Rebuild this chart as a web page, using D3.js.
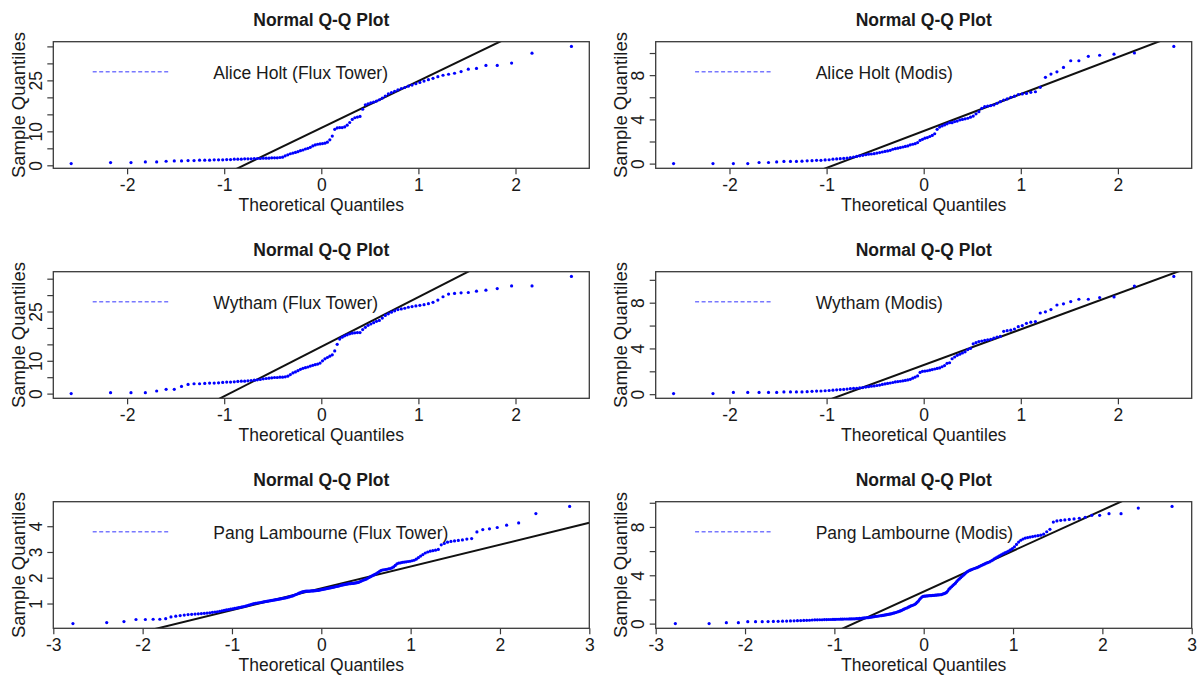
<!DOCTYPE html>
<html>
<head>
<meta charset="utf-8">
<script src="https://cdn.jsdelivr.net/npm/d3@7"></script>
<style>
  body { margin: 0; background: #fff; }
  svg { display: block; font-family: "Liberation Sans", Arial, sans-serif; }
</style>
</head>
<body>
<div id="chart"></div>
<script>
// Sorted sample values
const aliceFlux = [
  0.5, 0.8, 0.8, 1.0, 1.0, 1.2, 1.3, 1.3, 1.4, 1.4,
  1.5, 1.5, 1.5, 1.6, 1.6, 1.6, 1.7, 1.7, 1.8, 1.8,
  1.8, 1.9, 1.9, 1.9, 2.0, 2.0, 2.0, 2.1, 2.1, 2.1,
  2.2, 2.2, 2.2, 2.3, 2.4, 2.8, 3.1, 3.4, 3.6, 3.8,
  4.0, 4.3, 4.5, 4.8, 5.0, 5.3, 5.7, 6.0, 6.2, 6.3,
  6.4, 6.5, 6.8, 7.5, 8.6, 10.6, 11.0, 11.1, 11.1, 11.3,
  11.8, 12.6, 13.5, 14.0, 14.2, 14.4, 16.5, 17.8, 18.1, 18.4,
  18.6, 18.9, 19.3, 19.8, 20.4, 21.0, 21.4, 21.8, 22.2, 22.6,
  22.9, 23.3, 23.6, 24.0, 24.4, 24.8, 25.2, 25.6, 26.1, 26.5,
  26.8, 27.1, 27.6, 28.3, 28.5, 29.4, 29.4, 30.1, 33.0, 35.0
];
const aliceModis = [
  0.0, 0.0, 0.0, 0.0, 0.1, 0.1, 0.15, 0.2, 0.2, 0.2,
  0.22, 0.25, 0.27, 0.3, 0.3, 0.33, 0.35, 0.4, 0.42, 0.45,
  0.47, 0.5, 0.55, 0.6, 0.65, 0.7, 0.75, 0.8, 0.85, 0.87,
  0.9, 0.95, 1.0, 1.05, 1.1, 1.15, 1.2, 1.3, 1.35, 1.4,
  1.45, 1.5, 1.55, 1.6, 1.7, 1.75, 1.8, 1.9, 2.1, 2.2,
  2.3, 2.35, 2.45, 2.55, 2.7, 3.1, 3.3, 3.4, 3.5, 3.6,
  3.7, 3.7, 3.8, 3.85, 3.95, 4.0, 4.05, 4.1, 4.2, 4.3,
  4.5, 4.7, 5.0, 5.15, 5.2, 5.25, 5.3, 5.45, 5.6, 5.75,
  5.85, 6.0, 6.1, 6.25, 6.3, 6.35, 6.45, 6.5, 6.9, 7.8,
  8.1, 8.3, 8.7, 9.3, 9.3, 9.7, 9.8, 9.9, 10.0, 10.6
];
const wythamFlux = [
  0.0, 0.3, 0.3, 0.3, 0.8, 1.3, 1.3, 2.2, 2.8, 3.0,
  3.0, 3.1, 3.2, 3.2, 3.3, 3.4, 3.5, 3.5, 3.6, 3.7,
  3.8, 3.8, 3.9, 4.0, 4.1, 4.2, 4.3, 4.5, 4.6, 4.7,
  4.8, 4.9, 4.9, 5.0, 5.0, 5.1, 5.3, 5.8, 6.3, 6.6,
  7.0, 7.4, 7.7, 7.9, 8.1, 8.4, 8.6, 8.8, 9.0, 9.3,
  10.0, 10.6, 11.0, 11.4, 11.8, 13.0, 15.0, 16.6, 17.2, 17.6,
  17.9, 18.2, 18.4, 18.5, 18.6, 18.6, 19.5, 20.2, 20.8, 21.2,
  21.6, 22.0, 22.3, 23.0, 23.8, 24.3, 24.8, 25.2, 25.6, 25.8,
  26.0, 26.3, 26.5, 26.7, 26.9, 27.1, 27.4, 27.8, 28.5, 29.5,
  30.3, 30.5, 30.7, 30.8, 31.2, 31.5, 32.0, 32.8, 32.8, 35.7
];
const wythamModis = [
  0.05, 0.05, 0.15, 0.15, 0.15, 0.15, 0.15, 0.2, 0.2, 0.2,
  0.2, 0.22, 0.25, 0.27, 0.28, 0.3, 0.32, 0.35, 0.38, 0.4,
  0.42, 0.45, 0.48, 0.5, 0.52, 0.55, 0.58, 0.62, 0.66, 0.7,
  0.72, 0.76, 0.8, 0.85, 0.9, 0.94, 0.98, 1.02, 1.07, 1.1,
  1.13, 1.17, 1.2, 1.25, 1.3, 1.4, 1.5, 1.6, 1.9, 2.0,
  2.02, 2.05, 2.1, 2.15, 2.2, 2.25, 2.3, 2.4, 2.5, 2.7,
  2.75, 3.1, 3.25, 3.4, 3.5, 3.6, 3.7, 3.9, 4.0, 4.4,
  4.5, 4.6, 4.65, 4.7, 4.75, 4.8, 4.9, 5.0, 5.05, 5.5,
  5.55, 5.6, 5.7, 5.9, 6.0, 6.2, 6.3, 6.35, 7.1, 7.2,
  7.4, 7.8, 7.9, 8.1, 8.3, 8.3, 8.45, 8.5, 9.45, 10.3
];
const pangFlux = [
  0.22, 0.26, 0.30, 0.38, 0.38, 0.39, 0.39, 0.41, 0.48, 0.51,
  0.53, 0.55, 0.57, 0.58, 0.59, 0.60, 0.61, 0.62, 0.63, 0.64,
  0.66, 0.67, 0.68, 0.70, 0.72, 0.73, 0.75, 0.76, 0.78, 0.79,
  0.81, 0.82, 0.84, 0.85, 0.87, 0.88, 0.90, 0.92, 0.94, 0.96,
  0.98, 1.00, 1.01, 1.02, 1.03, 1.04, 1.05, 1.06, 1.07, 1.08,
  1.09, 1.10, 1.11, 1.12, 1.13, 1.14, 1.15, 1.16, 1.17, 1.18,
  1.19, 1.20, 1.21, 1.22, 1.23, 1.25, 1.26, 1.28, 1.29, 1.31,
  1.33, 1.35, 1.37, 1.39, 1.41, 1.43, 1.45, 1.46, 1.47, 1.48,
  1.48, 1.48, 1.48, 1.49, 1.49, 1.49, 1.50, 1.50, 1.51, 1.51,
  1.52, 1.53, 1.54, 1.55, 1.56, 1.57, 1.58, 1.59, 1.60, 1.61,
  1.62, 1.63, 1.64, 1.65, 1.66, 1.67, 1.68, 1.70, 1.71, 1.72,
  1.73, 1.74, 1.75, 1.76, 1.77, 1.77, 1.78, 1.78, 1.79, 1.80,
  1.81, 1.82, 1.84, 1.86, 1.89, 1.91, 1.93, 1.95, 1.98, 2.01,
  2.04, 2.07, 2.10, 2.13, 2.16, 2.20, 2.24, 2.28, 2.30, 2.31,
  2.32, 2.33, 2.35, 2.36, 2.38, 2.42, 2.48, 2.54, 2.57, 2.58,
  2.60, 2.61, 2.62, 2.63, 2.64, 2.66, 2.68, 2.72, 2.78, 2.84,
  2.90, 2.96, 3.00, 3.03, 3.05, 3.07, 3.10, 3.28, 3.33, 3.38,
  3.41, 3.43, 3.45, 3.47, 3.50, 3.52, 3.78, 3.87, 3.90, 3.95,
  4.04, 4.13, 4.49, 4.77
];
const pangModis = [
  0.00, 0.00, 0.08, 0.08, 0.16, 0.16, 0.16, 0.17, 0.18, 0.19,
  0.20, 0.21, 0.22, 0.23, 0.24, 0.25, 0.26, 0.27, 0.28, 0.30,
  0.31, 0.31, 0.32, 0.32, 0.33, 0.33, 0.34, 0.34, 0.35, 0.35,
  0.36, 0.36, 0.37, 0.37, 0.38, 0.38, 0.38, 0.39, 0.39, 0.40,
  0.40, 0.41, 0.42, 0.43, 0.44, 0.45, 0.47, 0.48, 0.49, 0.50,
  0.52, 0.54, 0.56, 0.58, 0.60, 0.61, 0.63, 0.65, 0.66, 0.68,
  0.70, 0.72, 0.74, 0.76, 0.78, 0.80, 0.83, 0.86, 0.89, 0.92,
  0.96, 1.00, 1.03, 1.07, 1.12, 1.17, 1.22, 1.27, 1.31, 1.36,
  1.41, 1.46, 1.50, 1.54, 1.58, 1.65, 1.75, 1.85, 1.99, 2.10,
  2.20, 2.25, 2.27, 2.28, 2.29, 2.30, 2.31, 2.32, 2.32, 2.33,
  2.34, 2.35, 2.36, 2.37, 2.38, 2.39, 2.40, 2.44, 2.48, 2.52,
  2.58, 2.70, 2.85, 2.95, 3.05, 3.15, 3.25, 3.35, 3.48, 3.60,
  3.70, 3.80, 3.90, 4.00, 4.10, 4.20, 4.30, 4.37, 4.42, 4.47,
  4.52, 4.56, 4.60, 4.64, 4.70, 4.76, 4.82, 4.88, 4.94, 5.00,
  5.05, 5.10, 5.18, 5.26, 5.36, 5.45, 5.52, 5.60, 5.70, 5.78,
  5.85, 5.92, 6.00, 6.10, 6.20, 6.35, 6.55, 6.75, 6.90, 7.00,
  7.08, 7.12, 7.16, 7.20, 7.24, 7.28, 7.32, 7.40, 7.60, 7.80,
  8.40, 8.50, 8.55, 8.58, 8.62, 8.66, 8.72, 8.80, 8.96, 8.96,
  9.10, 9.10, 9.56, 9.70
];

// panel order: row by row, left then right
const samples = [aliceFlux, aliceModis, wythamFlux, wythamModis, pangFlux, pangModis];
const siteNames = [
  "Alice Holt (Flux Tower)", "Alice Holt (Modis)",
  "Wytham (Flux Tower)", "Wytham (Modis)",
  "Pang Lambourne (Flux Tower)", "Pang Lambourne (Modis)"
];
// reference line [intercept, slope]
const refLines = [[11.0, 13.8], [2.95, 3.34], [14.3, 15.1], [2.55, 3.12], [1.59, 0.848], [2.65, 3.37]];
const xLimits = [2.76, 2.76, 2.76, 2.76, 3.0, 3.0];
const xTickSets = [
  [-2, -1, 0, 1, 2], [-2, -1, 0, 1, 2], [-2, -1, 0, 1, 2], [-2, -1, 0, 1, 2],
  [-3, -2, -1, 0, 1, 2, 3], [-3, -2, -1, 0, 1, 2, 3]
];
const yTickSets = [
  [0, 5, 10, 15, 20, 25, 30, 35], [0, 2, 4, 6, 8, 10],
  [0, 5, 10, 15, 20, 25, 30, 35], [0, 2, 4, 6, 8, 10],
  [1, 2, 3, 4], [0, 2, 4, 6, 8, 10]
];
const yLabelSets = [[0, 10, 25], [0, 4, 8], [0, 10, 25], [0, 4, 8], [1, 2, 3, 4], [0, 4, 8]];

// inverse normal cdf (Acklam), for the theoretical quantiles like qqnorm/ppoints
function qnorm(p) {
  const a = [-39.69683028665376, 220.9460984245205, -275.9285104469687, 138.3577518672690, -30.66479806614716, 2.506628277459239];
  const b = [-54.47609879822406, 161.5858368580409, -155.6989798598866, 66.80131188771972, -13.28068155288572];
  const c = [-0.007784894002430293, -0.3223964580411365, -2.400758277161838, -2.549732539343734, 4.374664141464968, 2.938163982698783];
  const d = [0.007784695709041462, 0.3224671290700398, 2.445134137142996, 3.754408661907416];
  const tail = (q) => (((((c[0] * q + c[1]) * q + c[2]) * q + c[3]) * q + c[4]) * q + c[5]) /
    ((((d[0] * q + d[1]) * q + d[2]) * q + d[3]) * q + 1);
  if (p < 0.02425) return tail(Math.sqrt(-2 * Math.log(p)));
  if (p > 1 - 0.02425) return -tail(Math.sqrt(-2 * Math.log(1 - p)));
  const q = p - 0.5, r = q * q;
  return (((((a[0] * r + a[1]) * r + a[2]) * r + a[3]) * r + a[4]) * r + a[5]) * q /
    (((((b[0] * r + b[1]) * r + b[2]) * r + b[3]) * r + b[4]) * r + 1);
}

const width = 1197, height = 675;
const colX = [53.3, 655.7];
const rowY = [41.7, 271.7, 501.7];
const boxW = 536, boxH = 126.6;
const fontSize = 17.5;
const ink = "#1a1a1a";

const svg = d3.select("#chart")
  .append("svg")
  .attr("width", width)
  .attr("height", height)
  .attr("viewBox", [0, 0, width, height]);

samples.forEach((values, k) => {
  const g = svg.append("g")
    .attr("transform", `translate(${colX[k % 2]},${rowY[Math.floor(k / 2)]})`);

  const n = values.length;
  const points = values.map((v, i) => [qnorm((i + 0.5) / n), v]);

  // y range padded by 4% like base R
  const [lo, hi] = d3.extent(values);
  const pad = (hi - lo) * 0.04;
  const x = d3.scaleLinear([-xLimits[k], xLimits[k]], [0, boxW]);
  const y = d3.scaleLinear([lo - pad, hi + pad], [boxH, 0]);

  const clipId = `clip-${k}`;
  g.append("clipPath").attr("id", clipId)
    .append("rect").attr("width", boxW).attr("height", boxH);

  // legend (dashed sample line + name)
  g.append("line")
    .attr("x1", 39.4).attr("x2", 117.4)
    .attr("y1", 30).attr("y2", 30)
    .attr("stroke", "#7878ff")
    .attr("stroke-width", 1.5)
    .attr("stroke-dasharray", "4 2.5");
  g.append("text")
    .attr("x", 160).attr("y", 37.4)
    .attr("font-size", fontSize)
    .attr("fill", ink)
    .text(siteNames[k]);

  // qqline
  const [b0, b1] = refLines[k];
  g.append("line")
    .attr("clip-path", `url(#${clipId})`)
    .attr("x1", x(-xLimits[k])).attr("y1", y(b0 - b1 * xLimits[k]))
    .attr("x2", x(xLimits[k])).attr("y2", y(b0 + b1 * xLimits[k]))
    .attr("stroke", "#111")
    .attr("stroke-width", 2);

  g.append("g")
    .selectAll("circle")
    .data(points)
    .join("circle")
    .attr("cx", (d) => x(d[0]))
    .attr("cy", (d) => y(d[1]))
    .attr("r", 1.6)
    .attr("fill", "#0000ff");

  // box
  g.append("rect")
    .attr("width", boxW).attr("height", boxH)
    .attr("fill", "none")
    .attr("stroke", "#3a3a3a")
    .attr("stroke-width", 1.3);

  // x axis
  g.append("g")
    .attr("transform", `translate(0,${boxH})`)
    .call(d3.axisBottom(x).tickValues(xTickSets[k]).tickSize(6).tickFormat(d3.format("d")))
    .call((a) => a.select(".domain").remove())
    .call((a) => a.selectAll(".tick line").attr("stroke", "#3a3a3a").attr("stroke-width", 1.2))
    .call((a) => a.selectAll(".tick text")
      .attr("y", 22.4).attr("dy", null)
      .attr("font-size", fontSize).attr("font-family", null)
      .attr("fill", ink)
      .text((d) => (d < 0 ? "-" + Math.abs(d) : d)));

  // y axis, labels parallel to the axis
  const shown = new Set(yLabelSets[k]);
  g.append("g")
    .call(d3.axisLeft(y).tickValues(yTickSets[k].filter((t) => t >= lo - pad && t <= hi + pad)).tickSize(6))
    .call((a) => a.select(".domain").remove())
    .call((a) => a.selectAll(".tick line").attr("stroke", "#3a3a3a").attr("stroke-width", 1.2))
    .call((a) => a.selectAll(".tick text")
      .attr("transform", "rotate(-90)")
      .attr("x", 0).attr("y", -11.5).attr("dy", null)
      .attr("text-anchor", "middle")
      .attr("font-size", fontSize).attr("font-family", null)
      .attr("fill", ink)
      .text((d) => (shown.has(d) ? d : "")));

  // titles
  g.append("text")
    .attr("x", boxW / 2).attr("y", -15.7)
    .attr("text-anchor", "middle")
    .attr("font-size", fontSize).attr("font-weight", "bold")
    .attr("fill", ink)
    .text("Normal Q-Q Plot");
  g.append("text")
    .attr("x", boxW / 2).attr("y", boxH + 42.5)
    .attr("text-anchor", "middle")
    .attr("font-size", fontSize)
    .attr("fill", ink)
    .text("Theoretical Quantiles");
  g.append("text")
    .attr("transform", `translate(-28.3,${boxH / 2}) rotate(-90)`)
    .attr("text-anchor", "middle")
    .attr("font-size", 18.5)
    .attr("fill", ink)
    .text("Sample Quantiles");
});
</script>
</body>
</html>
